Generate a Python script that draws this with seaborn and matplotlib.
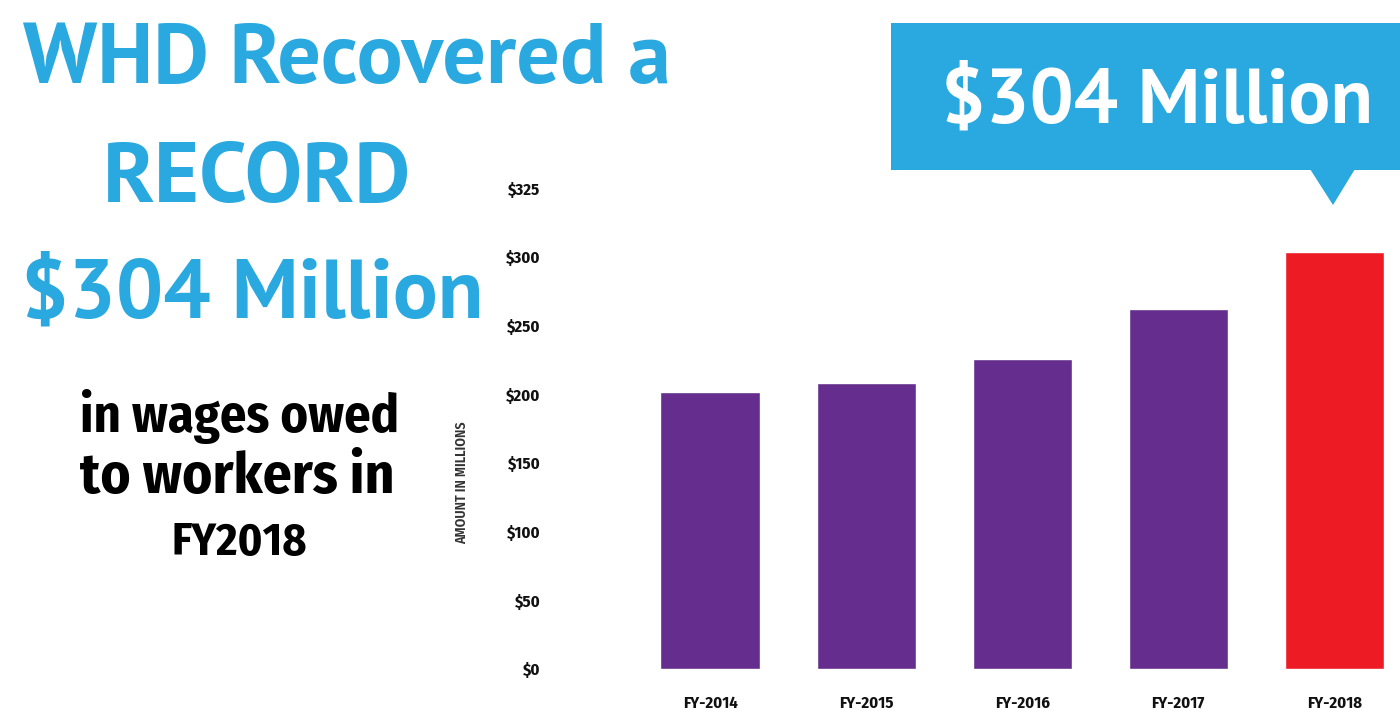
import matplotlib
matplotlib.use("Agg")
import matplotlib.pyplot as plt
import seaborn as sns
import pandas as pd
from matplotlib import font_manager
from matplotlib.patches import Rectangle, Polygon

# ---- data ----
years = ["FY-2014", "FY-2015", "FY-2016", "FY-2017", "FY-2018"]
amounts = [202, 208, 226, 262, 304]
bar_colors = ["#652D8E", "#652D8E", "#652D8E", "#652D8E", "#ED1C24"]
ytick_values = [0, 50, 100, 150, 200, 250, 300, 350]
ytick_labels = ["$0", "$50", "$100", "$150", "$200", "$250", "$300", "$325"]
title_lines = ["WHD Recovered a", "RECORD", "$304 Million"]
sub_lines = ["in wages owed", "to workers in", "FY2018"]
callout_text = "$304 Million"
y_title = "AMOUNT IN MILLIONS"

BLUE = "#29A9E0"
W, H, DPI = 1400, 713, 100

sns.set_theme(style="white")
names = {f.name for f in font_manager.fontManager.ttflist}


def pick(cands):
    for c in cands:
        if c in names:
            return [c, "DejaVu Sans"]
    return ["Open Sans", "DejaVu Sans"]


head_family = pick(["PT Sans", "Fira Sans Condensed", "Open Sans"])
body_family = pick(["Fira Sans Condensed", "PT Sans Narrow", "Open Sans Condensed"])
plt.rcParams["font.family"] = body_family

fig = plt.figure(figsize=(W / DPI, H / DPI), dpi=DPI)
fig.patch.set_facecolor("white")

# axes placement in pixels
ax_left, ax_right, ax_top, ax_bottom = 560, 1400, 180, 680
ax = fig.add_axes([ax_left / W, 1 - ax_bottom / H, (ax_right - ax_left) / W, (ax_bottom - ax_top) / H])

df = pd.DataFrame({"year": years, "amount": amounts})
sns.barplot(data=df, x="year", y="amount", hue="year", palette=bar_colors, legend=False,
            width=0.635, saturation=1, ax=ax)

px_per_unit = 1.373
zero_px = 669
ax.set_ylim(-(ax_bottom - zero_px) / px_per_unit, (zero_px - ax_top) / px_per_unit)
spacing = 156.1
c0 = 710
ax.set_xlim((ax_left - c0) / spacing, (ax_right - c0) / spacing)

ax.set_yticks(ytick_values)
ax.set_yticklabels(ytick_labels)
for s in ax.spines.values():
    s.set_visible(False)
ax.tick_params(axis="y", length=0, pad=14, labelsize=12)
ax.tick_params(axis="x", length=0, pad=11, labelsize=12)
for lab in ax.get_yticklabels() + ax.get_xticklabels():
    lab.set_fontweight("bold")
    lab.set_color("#111111")
ax.set_xlabel("")
ax.set_ylabel(y_title, fontsize=10, fontweight="semibold", color="#333333")
ax.yaxis.label.set_verticalalignment("center")
ax.yaxis.set_label_coords((462 - ax_left) / (ax_right - ax_left), (ax_bottom - 483) / (ax_bottom - ax_top))

renderer = fig.canvas.get_renderer()


def fit_text(s, xc, base_y, target_w, cap_px, color, family, cap_ratio):
    fs_h = cap_px / cap_ratio * 72 / DPI
    t = fig.text(xc / W, 1 - base_y / H, s, ha="center", va="baseline", color=color,
                 family=family, fontweight="bold", fontsize=fs_h)
    w = t.get_window_extent(renderer).width
    fs_w = fs_h * target_w / w
    fs = min((fs_h * fs_w) ** 0.5, fs_w * 1.03)
    t.set_fontsize(fs)
    return t


# left headline
fit_text(title_lines[0], 347, 83, 641, 61, BLUE, head_family, 0.70)
fit_text(title_lines[1], 257, 202, 301, 62, BLUE, head_family, 0.70)
fit_text(title_lines[2], 252, 317, 451, 60, BLUE, head_family, 0.70)
fit_text(sub_lines[0], 240, 432, 310, 45, "black", body_family, 0.69)
fit_text(sub_lines[1], 237, 493, 305, 45, "black", body_family, 0.69)
fit_text(sub_lines[2], 239, 555, 132, 45, "black", body_family, 0.69)

# callout box
fig.add_artist(Rectangle((891 / W, 1 - 170 / H), (W - 891) / W, (170 - 23) / H,
                         transform=fig.transFigure, facecolor=BLUE, edgecolor="none"))
fig.add_artist(Polygon([(1310 / W, 1 - 169 / H), (1355 / W, 1 - 169 / H), (1333 / W, 1 - 205 / H)],
                       closed=True, transform=fig.transFigure, facecolor=BLUE, edgecolor="none"))
fit_text(callout_text, 1157, 123, 420, 60, "white", head_family, 0.70)

fig.savefig("out.png", dpi=DPI)
